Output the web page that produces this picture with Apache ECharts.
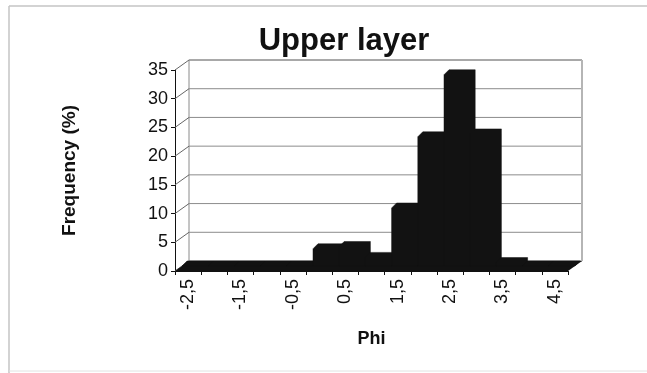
<!DOCTYPE html>
<html>
<head>
<meta charset="utf-8">
<script src="https://cdn.jsdelivr.net/npm/echarts@6/dist/echarts.min.js"></script>
<style>
  html, body { margin: 0; padding: 0; background: #fff; }
  #chart { width: 647px; height: 373px; }
</style>
</head>
<body>
<div id="chart"></div>
<script>
// Grain size classes (phi) and the share of sediment in each class
const phiClasses = [-2.5, -2, -1.5, -1, -0.5, 0, 0.5, 1, 1.5, 2, 2.5, 3, 3.5, 4, 4.5];
const frequency = [0, 0, 0, 0, 0, 3.0, 3.4, 1.5, 10.1, 22.5, 33.3, 23.0, 0.6, 0, 0];
const yTicks = [0, 5, 10, 15, 20, 25, 30, 35];

// Pseudo-3D geometry (pixels)
const WALL_DX = 14, WALL_DY = -10;   // back wall offset from the front axes
const BAR_DX = 7, BAR_DY = -5;       // bar front faces sit halfway into the depth
const EXT_DX = 5, EXT_DY = -5;       // bar extrusion (top and side faces)
const INK = '#121212';
const FONT = 'Liberation Sans, Arial';

const fmt = v => String(v).replace('.', ',');

function renderWalls(params, api) {
  const w = api.size([1, 0])[0];
  const xL = api.coord([0, 0])[0] - w / 2;
  const xR = api.coord([phiClasses.length - 1, 0])[0] + w / 2;
  const y0 = api.coord([0, 0])[1];
  const yTop = api.coord([0, yTicks[yTicks.length - 1]])[1];
  const children = [];
  // back wall
  children.push({
    type: 'rect',
    shape: { x: xL + WALL_DX, y: yTop + WALL_DY, width: xR - xL, height: y0 - yTop },
    style: { fill: '#fff', stroke: '#8a8a8a', lineWidth: 1 }
  });
  yTicks.forEach(t => {
    const y = api.coord([0, t])[1];
    // gridline across the back wall
    children.push({
      type: 'line',
      shape: { x1: xL + WALL_DX, y1: y + WALL_DY, x2: xR + WALL_DX, y2: y + WALL_DY },
      style: { stroke: '#8c8c8c', lineWidth: 1 }
    });
    // gridline across the side wall
    children.push({
      type: 'line',
      shape: { x1: xL, y1: y, x2: xL + WALL_DX, y2: y + WALL_DY },
      style: { stroke: '#666', lineWidth: 1 }
    });
  });
  // shaded right edge of the back wall
  children.push({
    type: 'line',
    shape: { x1: xR + WALL_DX, y1: yTop + WALL_DY, x2: xR + WALL_DX, y2: y0 + WALL_DY },
    style: { stroke: '#b5b5b5', lineWidth: 2 }
  });
  // floor
  children.push({
    type: 'polygon',
    shape: { points: [[xL, y0], [xR, y0], [xR + WALL_DX, y0 + WALL_DY], [xL + WALL_DX, y0 + WALL_DY]] },
    style: { fill: INK }
  });
  return { type: 'group', children };
}

function renderColumn(params, api) {
  const idx = api.value(0);
  const val = api.value(1);
  const w = api.size([1, 0])[0];
  const c = api.coord([idx, val]);
  const base = api.coord([idx, 0])[1] + BAR_DY;
  const top = c[1] + BAR_DY;
  const x0 = c[0] - w / 2 + BAR_DX;
  const x1 = x0 + w;
  return {
    type: 'polygon',
    shape: {
      points: [
        [x0, base], [x0, top], [x0 + EXT_DX, top + EXT_DY],
        [x1 + EXT_DX, top + EXT_DY], [x1 + EXT_DX, base + EXT_DY], [x1, base]
      ]
    },
    style: { fill: INK, stroke: INK, lineWidth: 0.5 }
  };
}

const chart = echarts.init(document.getElementById('chart'), null, { renderer: 'canvas' });
chart.setOption({
  backgroundColor: '#fff',
  animation: false,
  title: {
    text: 'Upper layer',
    left: 339,
    top: 21,
    textAlign: 'center',
    textStyle: { fontFamily: FONT, fontWeight: 'bold', fontSize: 31, color: '#111' }
  },
  grid: { left: 175, right: 79, top: 70, bottom: 102 },
  xAxis: {
    type: 'category',
    data: phiClasses,
    name: 'Phi',
    nameLocation: 'middle',
    nameGap: 59,
    nameTextStyle: { fontFamily: FONT, fontWeight: 'bold', fontSize: 18, color: '#111' },
    axisLine: { lineStyle: { color: '#111', width: 1 } },
    axisTick: { show: true, interval: 0, length: 4, lineStyle: { color: '#111' } },
    axisLabel: {
      interval: 1,
      rotate: 90,
      margin: 8,
      formatter: fmt,
      fontFamily: FONT,
      fontSize: 18,
      color: '#111'
    },
    splitLine: { show: false }
  },
  yAxis: {
    type: 'value',
    min: 0,
    max: 35,
    interval: 5,
    name: 'Frequency (%)',
    nameLocation: 'middle',
    nameGap: 96,
    nameTextStyle: { fontFamily: FONT, fontWeight: 'bold', fontSize: 19, color: '#111' },
    axisLine: { show: true, lineStyle: { color: '#111', width: 1 } },
    axisTick: { show: true, length: 4, lineStyle: { color: '#111' } },
    axisLabel: { fontFamily: FONT, fontSize: 18, color: '#111', margin: 7 },
    splitLine: { show: false }
  },
  graphic: [
    { type: 'line', shape: { x1: 9, y1: 6, x2: 647, y2: 6 }, style: { stroke: '#c4c4c4', lineWidth: 1.5 }, z: 0 },
    { type: 'line', shape: { x1: 9, y1: 6, x2: 9, y2: 373 }, style: { stroke: '#c4c4c4', lineWidth: 1.5 }, z: 0 },
    { type: 'line', shape: { x1: 9, y1: 371, x2: 647, y2: 371 }, style: { stroke: '#e2e2e2', lineWidth: 1 }, z: 0 }
  ],
  series: [
    {
      type: 'custom',
      name: 'walls',
      renderItem: renderWalls,
      data: [[0, 0]],
      clip: false,
      silent: true,
      z: 1
    },
    {
      type: 'custom',
      name: 'Frequency',
      renderItem: renderColumn,
      data: frequency.map((v, i) => [i, v]),
      encode: { x: 0, y: 1 },
      clip: false,
      z: 3
    }
  ]
});
</script>
</body>
</html>
